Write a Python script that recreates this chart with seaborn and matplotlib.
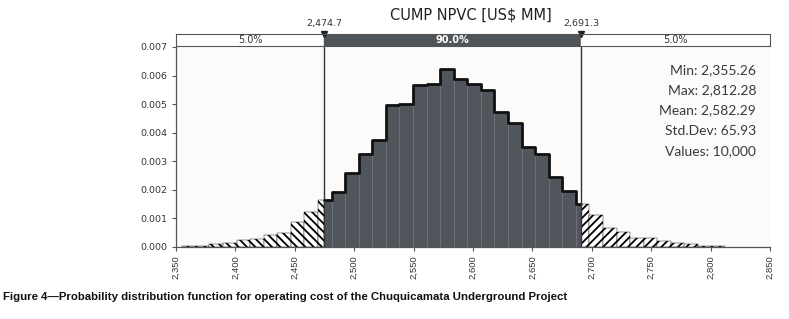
import numpy as np
import pandas as pd
import seaborn as sns
import matplotlib.pyplot as plt

sns.set_theme(style="white")
plt.rcParams["hatch.linewidth"] = 1.3

# summary statistics shown in the chart
stat_min, stat_max = 2355.26, 2812.28
stat_mean, stat_std, n_values = 2582.29, 65.93, 10000
p5, p95 = 2474.7, 2691.3

# 40 bins between min and max, density
n_bins = 40
density = [0.00003, 0.00005, 0.00012, 0.00014, 0.00023, 0.00028, 0.00043, 0.00049,
           0.00086, 0.00123, 0.00166, 0.00191, 0.00259, 0.00327, 0.00373, 0.00498,
           0.00502, 0.00566, 0.00570, 0.00623, 0.00588, 0.00572, 0.00551, 0.00471,
           0.00434, 0.00350, 0.00327, 0.00245, 0.00195, 0.00152, 0.00113, 0.00066,
           0.00051, 0.00031, 0.00030, 0.00020, 0.00014, 0.00011, 0.00003, 0.00003]
x_ticks = [2350, 2400, 2450, 2500, 2550, 2600, 2650, 2700, 2750, 2800, 2850]
y_ticks = [0.000, 0.001, 0.002, 0.003, 0.004, 0.005, 0.006, 0.007]

edges = np.linspace(stat_min, stat_max, n_bins + 1)
density = np.array(density)


def region(lo, hi):
    # bins clipped to [lo, hi], with the density of the bin they come from
    e = np.unique(np.concatenate([[lo, hi], edges[(edges > lo) & (edges < hi)]]))
    c = (e[:-1] + e[1:]) / 2
    idx = np.clip(np.searchsorted(edges, c) - 1, 0, n_bins - 1)
    return pd.DataFrame({"x": c, "w": density[idx]}), e.tolist()


fig = plt.figure(figsize=(7.89, 3.19), dpi=100)
ax = fig.add_axes([176 / 789, 72 / 319, 594 / 789, 200 / 319])
ax.set_facecolor("#fcfbfa")

left_df, left_e = region(stat_min, p5)
mid_df, mid_e = region(p5, p95)
right_df, right_e = region(p95, stat_max)

sns.histplot(data=left_df, x="x", weights="w", bins=left_e, ax=ax, color="white",
             edgecolor="black", linewidth=0.3, hatch="\\\\\\\\", alpha=1)
sns.histplot(data=right_df, x="x", weights="w", bins=right_e, ax=ax, color="white",
             edgecolor="black", linewidth=0.3, hatch="////", alpha=1)
sns.histplot(data=mid_df, x="x", weights="w", bins=mid_e, ax=ax, color="#51565c",
             edgecolor="#6e7379", linewidth=0.6, alpha=1)
sns.histplot(data=mid_df, x="x", weights="w", bins=mid_e, ax=ax, element="step",
             fill=False, color="#111111", linewidth=2)

for v in (p5, p95):
    ax.axvline(v, color="#333333", lw=1)

ax.set_xlim(2350, 2850)
ax.set_ylim(0, 0.007)
ax.set_xticks(x_ticks)
ax.set_xticklabels([f"{t:,}" for t in x_ticks], rotation=90,
                   family="Liberation Sans", fontsize=6.8, color="#333333")
ax.set_yticks(y_ticks)
ax.set_yticklabels([f"{t:.3f}" for t in y_ticks], fontsize=6.8, color="#333333")
ax.set_xlabel("")
ax.set_ylabel("")
ax.tick_params(axis="both", length=3, width=0.8, color="#555555", pad=3, bottom=True, left=True)
for s in ("top", "right"):
    ax.spines[s].set_visible(False)
for s in ("left", "bottom"):
    ax.spines[s].set_color("#555555")
    ax.spines[s].set_linewidth(0.9)

# percentile band above the plot
band = fig.add_axes([176 / 789, 273 / 319, 594 / 789, 12 / 319], sharex=ax)
band.axvspan(2350, p5, color="white")
band.axvspan(p5, p95, color="#4f5459")
band.axvspan(p95, 2850, color="white")
band.set_ylim(0, 1)
band.set_yticks([])
band.tick_params(axis="x", labelbottom=False, bottom=False)
for s in band.spines.values():
    s.set_color("#555555")
    s.set_linewidth(0.8)
band.text((2350 + p5) / 2, 0.5, "5.0%", ha="center", va="center", fontsize=7, color="#333333")
band.text((p5 + p95) / 2, 0.5, "90.0%", ha="center", va="center", fontsize=7,
          color="white", fontweight="bold")
band.text((p95 + 2850) / 2, 0.5, "5.0%", ha="center", va="center", fontsize=7, color="#333333")
for v in (p5, p95):
    band.plot([v], [1], marker="v", color="#222222", ms=5, clip_on=False)
    band.text(v, 1.9, f"{v:,.1f}", ha="center", va="center", fontsize=6.8, color="#333333")

fig.text(471 / 789, 1 - 15 / 319, "CUMP NPVC [US$ MM]", ha="center", va="center",
         fontsize=10.5, color="#222222")

stats = [f"Min: {stat_min:,.2f}", f"Max: {stat_max:,.2f}", f"Mean: {stat_mean:,.2f}",
         f"Std.Dev: {stat_std:,.2f}", f"Values: {n_values:,}"]
for i, line in enumerate(stats):
    fig.text(756 / 789, 1 - (70 + 20.2 * i) / 319, line, ha="right", va="center",
             family=["Lato", "DejaVu Sans"], fontsize=10, color="#3a3a3a")

fig.text(3 / 789, 1 - 297 / 319,
         "Figure 4\u2014Probability distribution function for operating cost of the Chuquicamata Underground Project",
         ha="left", va="center", family="Liberation Sans",
         fontsize=8.2, fontweight="bold", color="#111111")

fig.savefig("out.png", dpi=100, facecolor="white")
